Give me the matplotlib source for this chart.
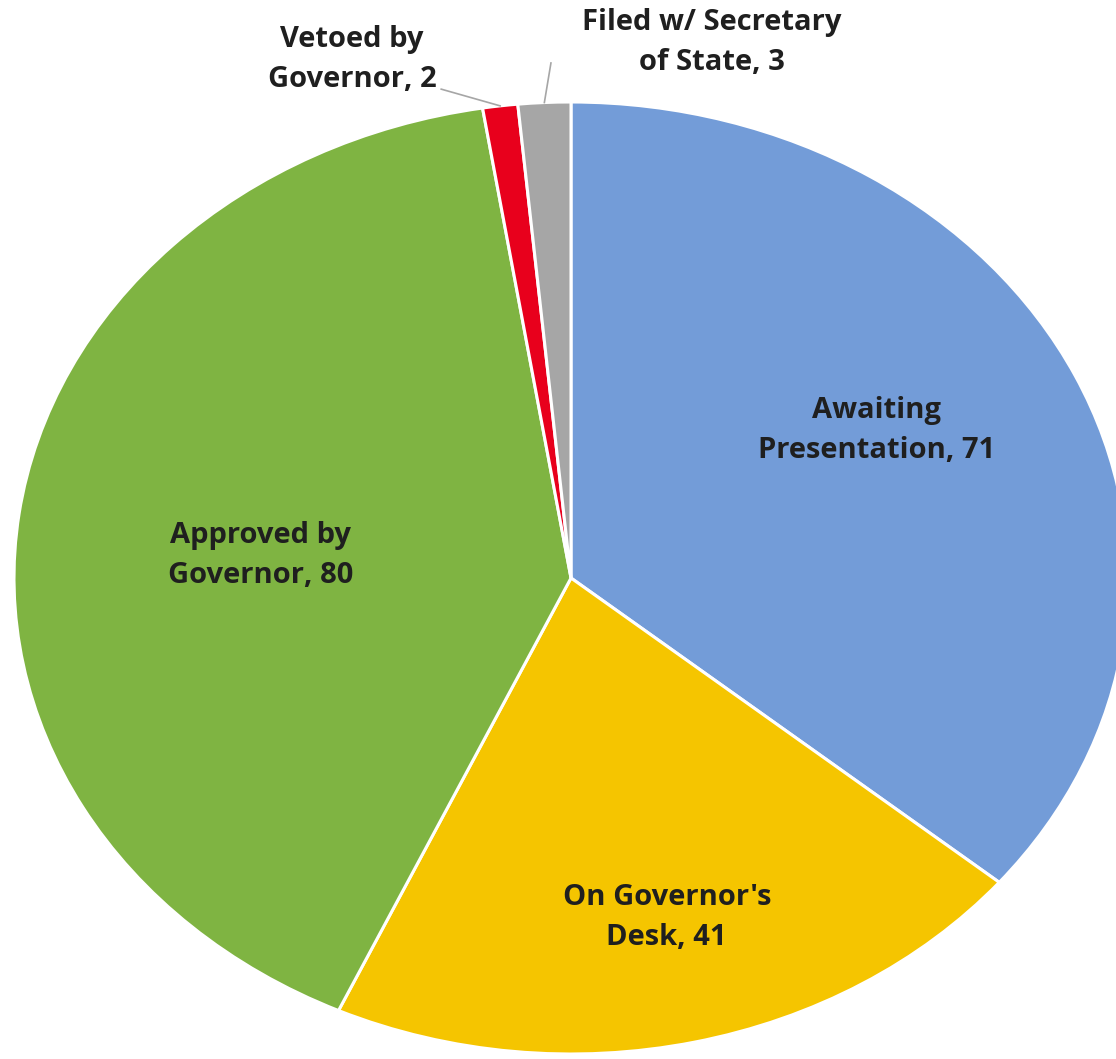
import numpy as np
import matplotlib.pyplot as plt

labels = ["Awaiting\nPresentation, 71", "On Governor's\nDesk, 41", "Approved by\nGovernor, 80",
          "Vetoed by\nGovernor, 2", "Filed w/ Secretary\nof State, 3"]
values = [71, 41, 80, 2, 3]
colors = ["#739CD8", "#F5C500", "#7FB442", "#E8001C", "#A6A6A6"]

# label centres in pie coordinates (radius 1)
label_pos = [(0.549, 0.309), (0.172, -0.714), (-0.558, 0.048), (-0.393, 1.090), (0.253, 1.124)]
# outer end of leader lines for the tiny slices
leader_end = {3: (-0.233, 1.027), 4: (-0.036, 1.082)}

fig = plt.figure(figsize=(11.16, 10.59), dpi=100)
ax = fig.add_axes([0, 0, 1, 1])
wedges, _ = ax.pie(values, colors=colors, startangle=90, counterclock=False,
                   wedgeprops=dict(edgecolor="white", linewidth=2.2))
# stretched pie as in the original picture
ax.set_aspect("auto")
ax.set_xlim(-571 / 557, (1116 - 571) / 557)
ax.set_ylim(-481 / 476, (1059 - 481) / 476)

for i, (lab, (x, y)) in enumerate(zip(labels, label_pos)):
    ax.text(x, y, lab, ha="center", va="center", fontsize=21, fontweight="bold",
            family="Open Sans", color="#1F1F1F", linespacing=1.5)

for i, (ex, ey) in leader_end.items():
    w = wedges[i]
    ang = np.deg2rad((w.theta1 + w.theta2) / 2)
    ax.plot([np.cos(ang), ex], [np.sin(ang), ey], color="#A6A6A6", lw=1.2)

fig.savefig("out.png", dpi=100)
